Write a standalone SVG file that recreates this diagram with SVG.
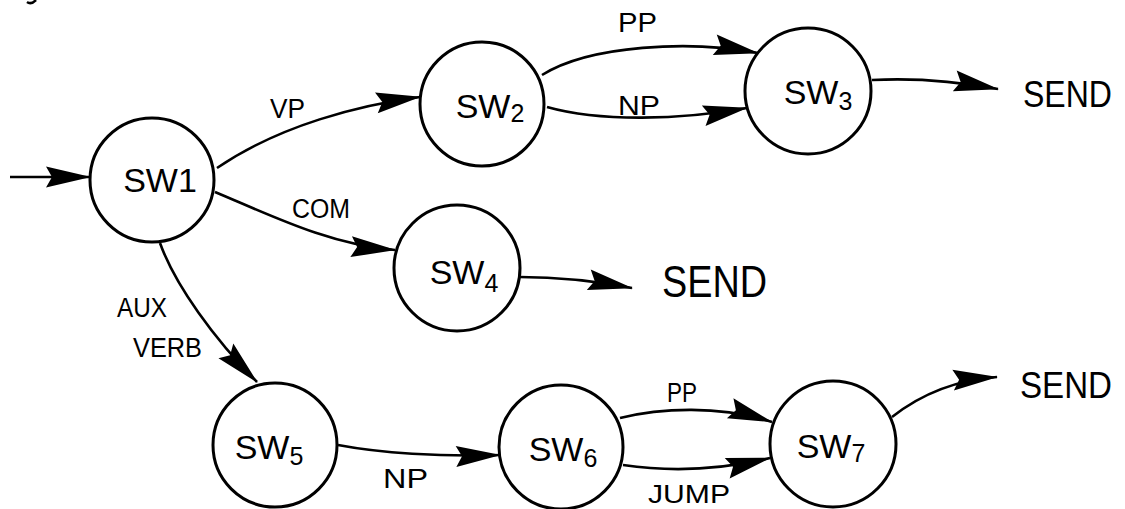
<svg xmlns="http://www.w3.org/2000/svg" width="1125" height="509" viewBox="0 0 1125 509">
  <style>
    .state { fill: #ffffff; stroke: #000000; stroke-width: 3; }
    .edge { fill: none; stroke: #000000; stroke-width: 2.6; marker-end: url(#dart); }
    text { font-family: "Liberation Sans", "DejaVu Sans", sans-serif; fill: #000000; }
    .name { font-size: 34px; text-anchor: middle; }
    .sub { font-size: 25px; }
    .lbl { font-size: 27px; }
    .send { font-size: 36px; }
  </style>
  <defs>
    <!-- long dart-shaped arrowhead, tip on the path end -->
    <marker id="dart" viewBox="0 0 46 24" refX="45" refY="12" markerWidth="46" markerHeight="24" markerUnits="userSpaceOnUse" orient="auto">
      <path d="M46,12 L1,1.5 L7,12 L1,22.5 Z" fill="#000000"/>
    </marker>
  </defs>

  <rect width="1125" height="509" fill="#ffffff"/>

  <!-- cut-off pen mark at the top edge -->
  <path d="M27,2 Q31,5 36,0" fill="none" stroke="#000000" stroke-width="2.5"/>

  <!-- transitions -->
  <g id="connectors">
    <path class="edge" d="M10,177 L90,177"/>
    <path class="edge" d="M217,168 C280,125 360,105 420,97"/>
    <path class="edge" d="M215,192 C270,215 330,245 395,250"/>
    <path class="edge" d="M160,243 C175,285 215,340 257,382"/>
    <path class="edge" d="M542,75 C590,45 690,40 758,53"/>
    <path class="edge" d="M547,107 C600,122 680,120 747,108"/>
    <path class="edge" d="M872,80 C910,78 950,80 998,89"/>
    <path class="edge" d="M520,277 C550,277 590,280 632,288"/>
    <path class="edge" d="M338,445 C380,453 440,457 500,455"/>
    <path class="edge" d="M620,418 C660,408 720,405 772,422"/>
    <path class="edge" d="M623,465 C670,472 720,470 770,458"/>
    <path class="edge" d="M892,417 C920,395 955,380 997,377"/>

    <text class="lbl" x="270" y="118" textLength="35" lengthAdjust="spacingAndGlyphs">VP</text>
    <text class="lbl" x="292" y="218" textLength="58" lengthAdjust="spacingAndGlyphs">COM</text>
    <text class="lbl" x="117" y="317" textLength="50" lengthAdjust="spacingAndGlyphs">AUX</text>
    <text class="lbl" x="133" y="357" textLength="69" lengthAdjust="spacingAndGlyphs">VERB</text>
    <text class="lbl" x="618" y="32" textLength="39" lengthAdjust="spacingAndGlyphs">PP</text>
    <text class="lbl" x="618" y="115" textLength="42" lengthAdjust="spacingAndGlyphs">NP</text>
    <text class="lbl" x="383" y="488" textLength="45" lengthAdjust="spacingAndGlyphs">NP</text>
    <text class="lbl" x="667" y="402" textLength="30" lengthAdjust="spacingAndGlyphs">PP</text>
    <text class="lbl" x="648" y="503" textLength="82" lengthAdjust="spacingAndGlyphs" style="font-size:25px">JUMP</text>
    <text class="send" x="1023" y="107" textLength="89" lengthAdjust="spacingAndGlyphs">SEND</text>
    <text class="send" x="662" y="297" textLength="105" lengthAdjust="spacingAndGlyphs" style="font-size:44px">SEND</text>
    <text class="send" x="1020" y="398" textLength="92" lengthAdjust="spacingAndGlyphs">SEND</text>
  </g>

  <!-- states -->
  <g id="sw1">
    <circle class="state" cx="152" cy="180" r="62"/>
    <text class="name" x="160" y="192">SW1</text>
  </g>
  <g id="sw2">
    <circle class="state" cx="482" cy="104" r="62"/>
    <text class="name" x="490" y="118">SW<tspan class="sub" dy="4">2</tspan></text>
  </g>
  <g id="sw3">
    <circle class="state" cx="808" cy="91" r="63"/>
    <text class="name" x="818" y="104">SW<tspan class="sub" dy="6">3</tspan></text>
  </g>
  <g id="sw4">
    <circle class="state" cx="457" cy="268" r="63"/>
    <text class="name" x="464" y="284">SW<tspan class="sub" dy="8">4</tspan></text>
  </g>
  <g id="sw5">
    <circle class="state" cx="275" cy="445" r="62"/>
    <text class="name" x="269" y="459">SW<tspan class="sub" dy="6">5</tspan></text>
  </g>
  <g id="sw6">
    <circle class="state" cx="561" cy="447" r="62"/>
    <text class="name" x="563" y="461">SW<tspan class="sub" dy="6">6</tspan></text>
  </g>
  <g id="sw7">
    <circle class="state" cx="833" cy="444" r="63"/>
    <text class="name" x="831" y="458">SW<tspan class="sub" dy="4">7</tspan></text>
  </g>
</svg>
